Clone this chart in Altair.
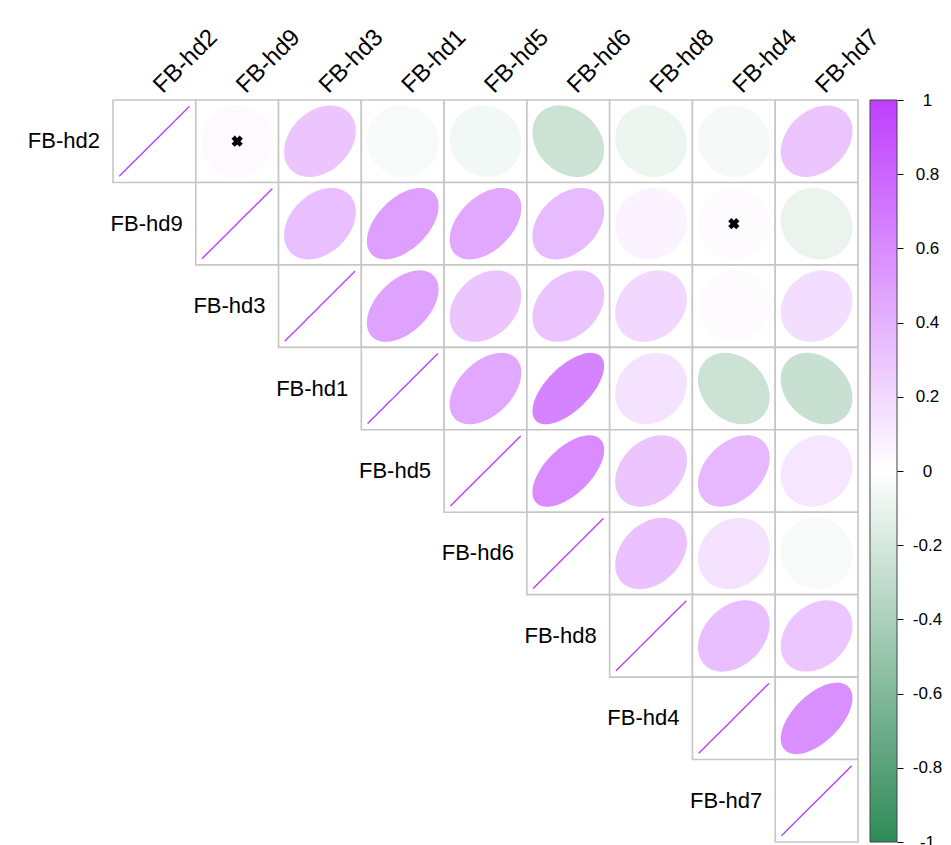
import math
import altair as alt
import pandas as pd

names = ["FB-hd2", "FB-hd9", "FB-hd3", "FB-hd1", "FB-hd5",
         "FB-hd6", "FB-hd8", "FB-hd4", "FB-hd7"]

# Upper triangle of the correlation matrix, each row starting at its diagonal
row_hd2 = [1, 0.03, 0.30, -0.04, -0.06, -0.25, -0.09, -0.05, 0.30]
row_hd9 = [1, 0.33, 0.50, 0.45, 0.36, 0.06, 0.02, -0.10]
row_hd3 = [1, 0.48, 0.30, 0.31, 0.20, 0.02, 0.17]
row_hd1 = [1, 0.45, 0.64, 0.15, -0.25, -0.27]
row_hd5 = [1, 0.60, 0.30, 0.37, 0.13]
row_hd6 = [1, 0.32, 0.15, -0.04]
row_hd8 = [1, 0.33, 0.29]
row_hd4 = [1, 0.58]
row_hd7 = [1]
rows = [row_hd2, row_hd9, row_hd3, row_hd1, row_hd5,
        row_hd6, row_hd8, row_hd4, row_hd7]

# Pairs whose correlation is not significant (crossed out)
insignificant = [("FB-hd2", "FB-hd9"), ("FB-hd9", "FB-hd4")]

colorbar_ticks = [-1, -0.8, -0.6, -0.4, -0.2, 0, 0.2, 0.4, 0.6, 0.8, 1]
palette = ["#2E8B57", "#FFFFFF", "#BF3EFF"]

N = len(names)
W, H = 745, 742
FONT = "Liberation Sans"

# ---- tables -------------------------------------------------------------
cells = []
for i, vals in enumerate(rows):
    for off, r in enumerate(vals):
        j = i + off
        cells.append({"cell": f"{i}-{j}", "i": i, "i2": i + 1,
                      "j": j, "j2": j + 1, "r": r})
cells_df = pd.DataFrame(cells)

# Ellipse outlines, parameterised by the correlation (corrplot style)
pts = []
n_pts = 72
scale_f = 0.85
for c in cells:
    a = math.acos(max(-1.0, min(1.0, c["r"]))) / 2
    for k in range(n_pts):
        t = 2 * math.pi * k / n_pts
        dx = math.cos(t + a) / 2 * scale_f
        dy = math.cos(t - a) / 2 * scale_f
        pts.append({"cell": c["cell"], "k": k, "r": c["r"],
                    "x": c["j"] + 0.5 + dx, "y": c["i"] + 0.5 - dy})
pts_df = pd.DataFrame(pts)

cross_df = pd.DataFrame([
    {"x": names.index(b) + 0.5, "y": names.index(a) + 0.5}
    for a, b in insignificant
])
col_df = pd.DataFrame({"name": names, "x": [j + 0.5 for j in range(N)],
                       "y": [0] * N})
row_df = pd.DataFrame({"name": names, "x": list(range(N)),
                       "y": [i + 0.5 for i in range(N)]})
bar_df = pd.DataFrame({"v": [-1], "v2": [1]})

# ---- scales ---------------------------------------------------------------
xs = alt.Scale(domain=[0, N], nice=False, zero=False)
ys = alt.Scale(domain=[0, N], nice=False, zero=False, reverse=True)
cs = alt.Scale(domain=[-1, 0, 1], range=palette, interpolate="rgb")

X = lambda f: alt.X(f, type="quantitative", scale=xs, axis=None)
Y = lambda f: alt.Y(f, type="quantitative", scale=ys, axis=None)

grid = alt.Chart(cells_df).mark_rect(
    fill="white", stroke="#C6C6C6", strokeWidth=1.6
).encode(x=X("j"), x2="j2", y=Y("i"), y2="i2")

ellipses = alt.Chart(pts_df).mark_line(
    interpolate="linear-closed", strokeWidth=1.4
).encode(
    x=X("x"), y=Y("y"),
    fill=alt.Fill("r:Q", scale=cs, legend=None),
    stroke=alt.Stroke("r:Q", scale=cs, legend=None),
    detail="cell:N",
    order=alt.Order("k:Q"),
)

crosses = alt.Chart(cross_df).mark_point(
    shape="cross", angle=45, filled=True, color="black", size=130, opacity=1
).encode(x=X("x"), y=Y("y"))

col_labels = alt.Chart(col_df).mark_text(
    angle=315, align="left", baseline="alphabetic", dx=10, dy=2,
    font=FONT, fontSize=24, color="black"
).encode(x=X("x"), y=Y("y"), text="name:N")

row_labels = alt.Chart(row_df).mark_text(
    align="right", baseline="middle", dx=-13,
    font=FONT, fontSize=22, color="black"
).encode(x=X("x"), y=Y("y"), text="name:N")

colorbar = alt.Chart(bar_df).mark_rect(
    fill=alt.Gradient(
        gradient="linear", x1=0, x2=0, y1=1, y2=0,
        stops=[alt.GradientStop(color=palette[0], offset=0),
               alt.GradientStop(color=palette[1], offset=0.5),
               alt.GradientStop(color=palette[2], offset=1)],
    ),
    stroke="#444444", strokeWidth=1,
).encode(
    x=alt.value(757), x2=alt.value(784),
    y=alt.Y("v:Q", scale=alt.Scale(domain=[-1, 1], nice=False, zero=False),
            axis=alt.Axis(orient="right", offset=39, values=colorbar_ticks,
                          domain=False, grid=False, ticks=True, tickSize=6,
                          tickColor="black", tickWidth=1,
                          labelAlign="center", labelPadding=24,
                          labelBaseline="middle",
                          labelFont=FONT, labelFontSize=17,
                          labelColor="black", labelExpr="datum.value + ''",
                          title=None)),
    y2="v2",
)

chart = alt.layer(
    grid, ellipses, crosses, col_labels, row_labels, colorbar
).resolve_scale(y="independent").properties(
    width=W, height=H,
    autosize=alt.AutoSizeParams(type="none"),
    padding={"left": 113, "top": 100, "right": 93, "bottom": 3},
).configure_view(stroke=None)

chart.save("out.html", embed_options={"renderer": "svg", "actions": False})
